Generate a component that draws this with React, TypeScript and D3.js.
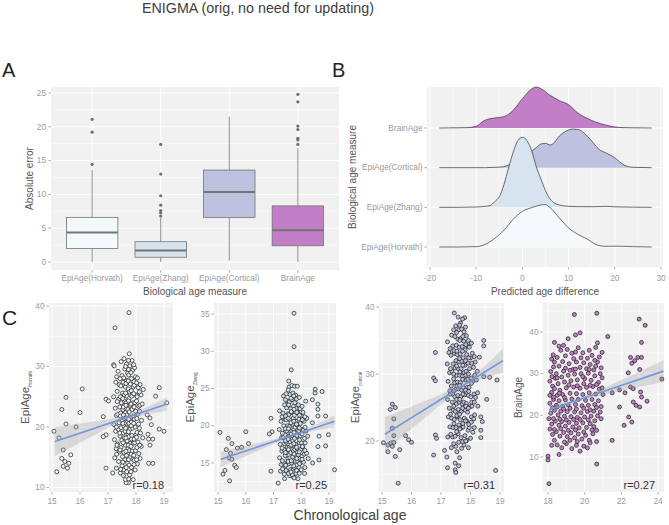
import * as d3 from "d3";

// ---------- panel A: absolute error boxplots ----------
const measures = ["EpiAge(Horvath)", "EpiAge(Zhang)", "EpiAge(Cortical)", "BrainAge"];
const boxLow = [0, 0, 0.2, 0];
const boxQ1 = [2.0, 0.7, 6.6, 2.4];
const boxMed = [4.35, 1.7, 10.35, 4.7];
const boxQ3 = [6.6, 3.0, 13.6, 8.3];
const boxHigh = [13.6, 6.5, 21.5, 16.8];
const boxOut = [
  [14.45, 19.2, 21.1],
  [6.8, 7.3, 7.6, 8.4, 9.8, 13.0, 17.4],
  [],
  [17.4, 18.05, 18.3, 19.6, 20.1, 23.7, 24.8],
];
const errTicks = [0, 5, 10, 15, 20, 25];

// ---------- panel B: ridgelines of predicted age difference ----------
const diffTicks = [-20, -10, 0, 10, 20, 30];
const brainX = [-18, -16, -14, -12, -10, -9, -8, -6, -4, -2, 0, 2, 3, 4, 6, 8, 10, 12, 14, 16, 18, 20, 22, 24, 26, 28];
const brainD = [0, 0.0003, 0.0005, 0.001, 0.005, 0.015, 0.024, 0.03, 0.034, 0.053, 0.088, 0.117, 0.123, 0.118, 0.098, 0.082, 0.07, 0.045, 0.029, 0.017, 0.009, 0.003, 0.001, 0.0005, 0.0003, 0];
const corticalX = [-18, -8, -6, -4, -3, -2, -1, 0, 1, 2, 3, 4, 5, 6, 7, 8, 9, 10, 11, 12, 13, 14, 15, 16, 17, 18, 19, 20, 21, 22, 23, 24, 28];
const corticalD = [0, 0, 0.001, 0.003, 0.008, 0.013, 0.02, 0.028, 0.038, 0.05, 0.06, 0.071, 0.073, 0.068, 0.077, 0.095, 0.106, 0.113, 0.116, 0.115, 0.108, 0.095, 0.08, 0.063, 0.051, 0.045, 0.038, 0.03, 0.018, 0.008, 0.003, 0.001, 0];
const zhangX = [-18, -14, -10, -8, -7, -6, -5, -4, -3, -2, -1, 0, 1, 2, 3, 4, 5, 6, 7, 8, 10, 12, 14, 16, 18, 20, 22, 24, 28];
const zhangD = [0, 0, 0.001, 0.003, 0.005, 0.017, 0.032, 0.068, 0.118, 0.165, 0.2, 0.21, 0.2, 0.17, 0.122, 0.085, 0.05, 0.025, 0.012, 0.007, 0.003, 0.002, 0.002, 0.002, 0.003, 0.0015, 0.001, 0.0005, 0];
const horvathX = [-18, -14, -12, -10, -9, -8, -6, -4, -2, 0, 2, 4, 5, 6, 8, 10, 12, 14, 16, 18, 20, 22, 24, 26, 28];
const horvathD = [0, 0, 0.0005, 0.001, 0.003, 0.008, 0.026, 0.05, 0.083, 0.107, 0.118, 0.126, 0.127, 0.118, 0.087, 0.057, 0.038, 0.024, 0.007, 0.002, 0.0025, 0.002, 0.001, 0.0005, 0];

// ---------- panel C: biological vs chronological age ----------
const ptsHorvath: [number, number][] = [
  [17.75, 38.9], [17.25, 36.4], [16.08, 26.3], [15.5, 24.9], [15.35, 22.9], [16.0, 22.4], [15.5, 20.5], [15.86, 20.0],
  [15.07, 19.3], [15.25, 18.2], [15.4, 16.2], [15.67, 15.4], [15.35, 14.8], [15.46, 14.3], [15.6, 14.0], [15.4, 13.5],
  [15.55, 13.2], [15.17, 12.6], [18.83, 26.5], [18.7, 25.1], [19.1, 24.0], [18.4, 22.0], [18.5, 21.5], [18.83, 19.65],
  [19.0, 19.3], [18.55, 20.4], [18.43, 18.8], [18.45, 18.0], [18.6, 18.0], [18.5, 17.0], [18.45, 14.0], [18.6, 14.0],
  [16.93, 18.7], [16.83, 18.4], [16.93, 24.6], [17.02, 24.3], [16.83, 21.7], [16.93, 13.2], [17.17, 12.4], [17.73, 10.8],
  [17.65, 10.8], [17.9, 11.3], [17.2, 30.3],
  [17.22, 30.1], [17.28, 27.4], [17.2, 25.0], [17.26, 23.1], [17.3, 21.9], [17.21, 20.4], [17.27, 19.3], [17.23, 17.9], [17.29, 16.4], [17.24, 14.9], [17.3, 13.2],
  [17.36, 29.2], [17.4, 27.0], [17.33, 25.9], [17.38, 24.6], [17.42, 23.3], [17.35, 22.1], [17.4, 20.7], [17.37, 19.6], [17.43, 18.5], [17.34, 17.2], [17.41, 15.9], [17.38, 14.3], [17.44, 12.4],
  [17.47, 30.8], [17.5, 28.5], [17.46, 26.8], [17.52, 25.6], [17.48, 24.0], [17.53, 22.9], [17.45, 22.3], [17.51, 21.1], [17.47, 19.9], [17.54, 19.0], [17.49, 17.8], [17.46, 16.6], [17.52, 15.1], [17.5, 13.6],
  [17.57, 31.3], [17.6, 29.6], [17.56, 28.1], [17.62, 26.6], [17.58, 25.3], [17.6, 24.2], [17.55, 23.3], [17.63, 22.4], [17.59, 21.4], [17.56, 20.2], [17.61, 19.3], [17.58, 18.2], [17.62, 17.0], [17.57, 15.8], [17.6, 14.6], [17.56, 12.9], [17.62, 11.3],
  [17.66, 30.4], [17.7, 28.9], [17.67, 27.7], [17.72, 26.3], [17.68, 25.1], [17.65, 24.0], [17.71, 22.9], [17.67, 22.0], [17.7, 20.9], [17.66, 20.0], [17.72, 18.8], [17.68, 17.7], [17.71, 16.4], [17.66, 15.3], [17.7, 14.0], [17.67, 12.6],
  [17.76, 32.1], [17.78, 30.1], [17.74, 28.6], [17.8, 27.1], [17.77, 25.8], [17.75, 24.7], [17.79, 23.6], [17.76, 22.5], [17.81, 21.6], [17.75, 20.6], [17.78, 19.6], [17.74, 18.4], [17.8, 17.3], [17.76, 16.1], [17.79, 15.0], [17.75, 13.7], [17.77, 12.1],
  [17.86, 31.0], [17.88, 29.4], [17.84, 28.0], [17.9, 26.6], [17.85, 25.1], [17.89, 24.0], [17.86, 22.9], [17.91, 21.8], [17.84, 20.8], [17.88, 19.8], [17.85, 18.6], [17.9, 17.3], [17.86, 16.0], [17.89, 14.7], [17.84, 13.3],
  [17.95, 29.8], [17.98, 28.3], [17.94, 26.9], [18.0, 25.3], [17.96, 24.0], [17.99, 22.6], [17.94, 21.3], [17.97, 20.0], [18.0, 18.7], [17.95, 17.4], [17.98, 16.1], [17.94, 14.5], [17.97, 12.9],
  [18.05, 28.1], [18.08, 26.5], [18.04, 25.0], [18.1, 23.4], [18.06, 22.1], [18.09, 20.5], [18.04, 19.1], [18.07, 17.5], [18.1, 15.6], [18.05, 13.9],
  [18.15, 27.0], [18.18, 25.3], [18.14, 23.6], [18.2, 21.1], [18.16, 19.0], [18.19, 16.8], [18.15, 14.8],
  [17.31, 28.3], [17.33, 24.2], [17.3, 20.0], [17.32, 17.0], [17.31, 15.5],
  [17.43, 28.0], [17.44, 25.0], [17.44, 21.8], [17.42, 19.0], [17.43, 16.2], [17.45, 13.0],
  [17.54, 27.4], [17.53, 24.7], [17.55, 22.0], [17.53, 20.6], [17.54, 17.4], [17.53, 14.2], [17.55, 12.0],
  [17.63, 30.0], [17.64, 27.2], [17.63, 25.6], [17.64, 23.6], [17.65, 21.5], [17.63, 19.8], [17.64, 18.2], [17.64, 16.0], [17.65, 13.3],
  [17.73, 31.0], [17.73, 29.5], [17.72, 27.6], [17.73, 24.3], [17.74, 21.3], [17.73, 19.2], [17.72, 17.0], [17.73, 14.6], [17.74, 11.4],
  [17.82, 29.0], [17.83, 26.0], [17.82, 23.8], [17.83, 20.2], [17.84, 18.0], [17.82, 16.8], [17.83, 15.5], [17.82, 12.6],
  [17.92, 30.3], [17.93, 27.5], [17.92, 25.5], [17.93, 23.3], [17.92, 20.6], [17.93, 18.0], [17.92, 15.3], [17.93, 13.8],
  [18.02, 27.3], [18.02, 24.3], [18.03, 21.4], [18.02, 18.3], [18.03, 16.6], [18.02, 14.6],
  [18.12, 25.8], [18.13, 22.6], [18.12, 19.8], [18.13, 17.0],
  [18.22, 23.8], [18.24, 18.2], [18.26, 26.2],
];
const ptsZhang: [number, number][] = [
  [17.74, 35.1], [17.74, 30.6], [17.64, 27.5], [17.55, 26.0], [16.91, 21.0], [16.95, 19.2], [16.85, 18.9], [15.07, 19.1],
  [16.0, 19.2], [15.37, 18.3], [15.5, 17.6], [15.7, 17.0], [15.85, 17.1], [16.1, 17.6], [15.3, 16.8], [15.45, 16.3],
  [15.4, 15.7], [15.5, 15.5], [15.6, 14.7], [15.66, 14.4], [15.25, 14.0], [15.18, 13.5], [15.42, 12.6], [16.91, 13.9],
  [17.17, 12.3], [17.4, 12.9], [17.7, 13.2], [17.88, 12.9], [18.12, 13.6], [18.41, 15.0], [18.64, 15.4], [18.5, 24.9],
  [18.5, 24.4], [18.75, 24.6], [18.6, 22.9], [18.6, 22.2], [18.6, 21.3], [18.88, 21.3], [18.4, 20.4], [18.64, 18.6],
  [18.98, 18.8], [18.6, 17.2], [18.88, 17.3], [19.2, 14.1], [18.4, 23.5],
  [17.22, 22.0], [17.27, 20.6], [17.21, 19.5], [17.29, 18.4], [17.24, 17.5], [17.3, 16.6], [17.22, 15.7], [17.28, 14.8], [17.25, 13.9],
  [17.36, 24.0], [17.4, 22.8], [17.34, 21.7], [17.41, 20.9], [17.37, 20.0], [17.43, 19.2], [17.35, 18.4], [17.4, 17.6], [17.38, 16.8], [17.42, 16.0], [17.36, 15.1], [17.41, 14.3], [17.39, 13.5],
  [17.46, 24.3], [17.5, 23.3], [17.47, 22.4], [17.52, 21.6], [17.45, 20.8], [17.51, 20.0], [17.48, 19.3], [17.53, 18.6], [17.46, 17.8], [17.5, 17.1], [17.47, 16.4], [17.52, 15.6], [17.49, 14.8], [17.45, 14.0],
  [17.56, 25.2], [17.6, 24.2], [17.57, 23.2], [17.62, 22.3], [17.55, 21.5], [17.61, 20.7], [17.58, 19.9], [17.63, 19.2], [17.56, 18.5], [17.6, 17.8], [17.57, 17.1], [17.62, 16.4], [17.59, 15.7], [17.55, 14.9], [17.61, 14.1], [17.58, 13.3],
  [17.66, 25.4], [17.7, 24.4], [17.67, 23.5], [17.72, 22.6], [17.65, 21.8], [17.71, 21.0], [17.68, 20.2], [17.73, 19.5], [17.66, 18.7], [17.7, 18.0], [17.67, 17.3], [17.72, 16.6], [17.69, 15.8], [17.65, 15.0], [17.71, 14.2], [17.68, 13.4],
  [17.76, 25.3], [17.8, 24.1], [17.77, 23.1], [17.82, 22.3], [17.75, 21.4], [17.81, 20.6], [17.78, 19.8], [17.83, 19.0], [17.76, 18.3], [17.8, 17.5], [17.77, 16.8], [17.82, 16.0], [17.79, 15.2], [17.75, 14.4], [17.81, 13.6],
  [17.86, 25.3], [17.9, 22.8], [17.87, 21.8], [17.92, 20.9], [17.85, 20.1], [17.91, 19.3], [17.88, 18.5], [17.93, 17.7], [17.86, 16.9], [17.9, 16.1], [17.87, 15.2], [17.92, 14.4],
  [17.96, 22.3], [18.0, 21.3], [17.97, 20.3], [18.02, 19.5], [17.95, 18.6], [18.01, 17.7], [17.98, 16.8], [18.03, 15.9], [17.96, 15.0], [18.0, 14.1],
  [18.06, 21.8], [18.1, 20.6], [18.07, 19.4], [18.12, 18.3], [18.05, 17.2], [18.11, 16.2], [18.08, 15.1],
  [18.16, 23.3], [18.2, 21.0], [18.17, 19.3], [18.14, 17.7], [18.19, 16.3],
  [17.31, 21.2], [17.32, 19.0], [17.31, 17.0], [17.32, 15.3], [17.33, 14.2],
  [17.43, 23.5], [17.44, 21.3], [17.43, 19.6], [17.44, 18.0], [17.43, 16.4], [17.44, 14.7],
  [17.53, 24.8], [17.54, 22.8], [17.53, 21.0], [17.54, 19.6], [17.53, 18.2], [17.54, 16.8], [17.53, 15.2], [17.54, 13.6],
  [17.63, 23.7], [17.64, 21.9], [17.63, 20.4], [17.64, 18.9], [17.63, 17.4], [17.64, 15.3], [17.63, 13.8],
  [17.73, 24.0], [17.74, 22.2], [17.73, 20.6], [17.74, 19.1], [17.73, 17.6], [17.74, 16.2], [17.73, 14.6], [17.74, 13.0],
  [17.83, 23.6], [17.84, 21.8], [17.83, 20.2], [17.84, 18.7], [17.83, 17.1], [17.84, 15.6], [17.83, 14.0],
  [17.93, 23.8], [17.94, 21.4], [17.93, 19.7], [17.94, 18.1], [17.93, 16.5], [17.94, 14.9], [17.93, 13.6],
  [18.03, 22.6], [18.04, 20.8], [18.03, 18.9], [18.04, 17.2], [18.03, 15.5],
  [18.13, 21.2], [18.14, 19.8], [18.13, 16.7], [18.13, 14.4],
  [18.23, 18.6], [18.25, 15.6],
];
const ptsCortical: [number, number][] = [
  [15.05, 19.75], [15.2, 19.4], [15.3, 19.7], [15.4, 19.8], [15.2, 18.4], [15.45, 17.7], [15.6, 18.7], [15.35, 19.2],
  [15.35, 25.5], [15.28, 24.7], [15.45, 25.0], [15.4, 23.3], [15.35, 21.9], [15.4, 20.8], [15.8, 20.8], [15.9, 20.2],
  [16.0, 19.8], [15.55, 13.7], [16.81, 33.2], [16.75, 29.4], [16.81, 29.0], [16.81, 20.9], [16.85, 20.4], [16.75, 17.9],
  [17.12, 18.6], [17.2, 17.6], [17.22, 16.0], [17.48, 15.7], [17.48, 16.7], [17.6, 16.3], [17.5, 15.3], [18.45, 35.0],
  [18.45, 34.2], [18.3, 32.5], [18.45, 29.6], [18.65, 29.5], [18.9, 29.1], [18.55, 26.2], [18.25, 25.2], [18.35, 23.6],
  [18.4, 22.9], [18.35, 21.6], [18.35, 20.5], [18.85, 15.6],
  [17.22, 34.8], [17.27, 33.2], [17.21, 31.5], [17.29, 30.2], [17.24, 28.9], [17.3, 27.5], [17.22, 26.2], [17.28, 24.9], [17.25, 23.6], [17.3, 22.1], [17.23, 20.6],
  [17.36, 35.8], [17.4, 34.2], [17.34, 32.8], [17.41, 31.5], [17.37, 30.4], [17.43, 29.3], [17.35, 28.2], [17.4, 27.0], [17.38, 25.8], [17.42, 24.6], [17.36, 23.4], [17.41, 22.0], [17.39, 20.6], [17.35, 19.0],
  [17.45, 39.1], [17.5, 37.2], [17.47, 35.6], [17.52, 34.3], [17.45, 33.1], [17.51, 32.0], [17.48, 30.9], [17.53, 29.8], [17.46, 28.7], [17.5, 27.7], [17.47, 26.6], [17.52, 25.5], [17.49, 24.4], [17.45, 23.2], [17.51, 22.0], [17.48, 20.7], [17.5, 19.2],
  [17.58, 38.5], [17.6, 36.6], [17.57, 35.2], [17.62, 34.0], [17.55, 32.9], [17.61, 31.8], [17.58, 30.8], [17.63, 29.8], [17.56, 28.8], [17.6, 27.8], [17.57, 26.8], [17.62, 25.8], [17.59, 24.7], [17.55, 23.6], [17.61, 22.4], [17.58, 21.1], [17.6, 19.8],
  [17.66, 37.6], [17.7, 36.7], [17.67, 35.3], [17.72, 34.1], [17.65, 33.0], [17.71, 31.9], [17.68, 30.8], [17.73, 29.7], [17.66, 28.7], [17.7, 27.6], [17.67, 26.6], [17.72, 25.5], [17.69, 24.4], [17.65, 23.2], [17.71, 22.0], [17.68, 20.5], [17.7, 18.9],
  [17.8, 38.4], [17.78, 36.3], [17.77, 34.9], [17.82, 33.6], [17.75, 32.4], [17.81, 31.3], [17.78, 30.2], [17.83, 29.1], [17.76, 28.0], [17.8, 26.9], [17.77, 25.8], [17.82, 24.6], [17.79, 23.4], [17.75, 22.1], [17.81, 20.8], [17.78, 19.4],
  [17.86, 35.7], [17.9, 34.2], [17.87, 32.9], [17.92, 31.6], [17.85, 30.4], [17.91, 29.2], [17.88, 28.0], [17.93, 26.8], [17.86, 25.6], [17.9, 24.3], [17.87, 23.0], [17.92, 21.6], [17.88, 20.1],
  [17.96, 34.0], [18.0, 32.4], [17.97, 30.8], [18.02, 29.4], [17.95, 28.0], [18.01, 26.6], [17.98, 25.1], [18.03, 23.6], [17.96, 22.0], [18.0, 20.4],
  [18.06, 33.1], [18.1, 31.0], [18.07, 28.9], [18.12, 27.0], [18.05, 25.2], [18.11, 23.3], [18.08, 21.3],
  [18.16, 31.8], [18.2, 29.1], [18.17, 26.5], [18.14, 23.9],
  [17.31, 33.8], [17.32, 30.8], [17.31, 27.0], [17.32, 24.0], [17.33, 21.0],
  [17.43, 36.6], [17.44, 33.5], [17.43, 30.0], [17.44, 27.5], [17.43, 25.2], [17.44, 22.6], [17.43, 19.6],
  [17.53, 36.2], [17.54, 33.4], [17.53, 31.2], [17.54, 28.2], [17.53, 26.2], [17.54, 23.8], [17.53, 21.4], [17.54, 18.4],
  [17.63, 37.3], [17.64, 35.0], [17.63, 32.3], [17.64, 30.3], [17.63, 28.3], [17.64, 26.2], [17.63, 24.0], [17.64, 21.8], [17.63, 17.5],
  [17.73, 38.2], [17.74, 35.6], [17.73, 33.4], [17.74, 31.3], [17.73, 29.2], [17.74, 27.0], [17.73, 24.9], [17.74, 22.6], [17.73, 19.9],
  [17.83, 37.0], [17.84, 34.4], [17.83, 32.0], [17.84, 29.8], [17.83, 27.6], [17.84, 25.2], [17.83, 23.0], [17.84, 20.0],
  [17.93, 35.0], [17.94, 32.4], [17.93, 30.0], [17.94, 27.4], [17.93, 24.9], [17.94, 22.5], [17.93, 19.0],
  [18.03, 34.6], [18.04, 31.6], [18.03, 28.6], [18.04, 25.8], [18.03, 22.8],
  [18.13, 32.6], [18.14, 29.8], [18.13, 25.8], [18.13, 22.0],
  [18.23, 30.4], [18.24, 27.2],
];
const ptsBrain: [number, number][] = [
  [19.44, 44.2], [20.66, 44.5], [22.97, 43.1], [23.3, 41.6], [21.26, 38.9], [23.1, 37.5], [22.5, 33.9], [22.73, 33.1],
  [22.9, 33.9], [23.1, 33.9], [22.57, 32.5], [22.38, 30.2], [23.0, 31.0], [24.21, 28.7], [21.5, 25.4], [21.9, 26.1],
  [22.2, 25.4], [22.5, 26.8], [22.65, 26.4], [23.05, 25.6], [23.1, 24.4], [23.4, 23.4], [22.65, 23.2], [22.8, 22.4],
  [23.0, 22.0], [21.9, 22.0], [22.4, 19.6], [22.15, 17.6], [22.57, 18.4], [21.5, 14.0], [20.66, 8.3], [18.0, 10.2],
  [18.0, 9.3], [18.05, 3.6], [18.6, 10.6], [19.5, 39.3], [19.75, 39.8], [20.7, 37.4], [18.35, 37.5], [19.1, 38.4],
  [18.2, 33.5], [18.35, 32.8], [18.5, 33.9], [18.7, 35.6], [18.85, 36.8], [19.05, 35.8], [19.3, 34.9], [19.5, 35.2], [19.65, 36.2], [19.9, 35.0], [20.15, 33.7], [20.4, 34.4], [20.6, 36.3], [20.8, 34.0],
  [18.15, 30.5], [18.3, 31.6], [18.45, 30.0], [18.6, 31.8], [18.8, 32.9], [18.95, 31.3], [19.15, 32.4], [19.35, 31.0], [19.55, 32.8], [19.75, 31.5], [19.95, 32.6], [20.1, 31.2], [20.3, 32.2], [20.5, 30.9], [20.7, 32.8], [20.9, 31.4],
  [18.1, 28.2], [18.25, 27.0], [18.4, 28.9], [18.55, 27.6], [18.75, 29.2], [18.9, 28.0], [19.1, 29.6], [19.25, 28.3], [19.45, 29.9], [19.6, 28.5], [19.8, 30.0], [20.0, 28.8], [20.2, 30.1], [20.35, 28.4], [20.55, 29.5], [20.75, 27.9], [20.95, 29.0],
  [18.2, 25.5], [18.35, 26.4], [18.5, 24.8], [18.65, 26.0], [18.8, 25.0], [19.0, 26.6], [19.2, 25.3], [19.4, 26.8], [19.55, 25.2], [19.75, 26.5], [19.9, 25.0], [20.1, 26.7], [20.25, 25.4], [20.45, 26.9], [20.6, 25.1], [20.8, 26.3], [21.0, 25.0],
  [18.1, 22.9], [18.3, 23.8], [18.45, 22.4], [18.6, 23.5], [18.8, 22.2], [18.95, 23.7], [19.1, 22.5], [19.3, 23.9], [19.5, 22.6], [19.65, 23.8], [19.85, 22.3], [20.05, 23.6], [20.2, 22.4], [20.4, 23.8], [20.55, 22.6], [20.75, 23.5], [20.9, 22.1],
  [18.15, 20.5], [18.35, 21.2], [18.55, 20.1], [18.7, 21.0], [18.9, 19.8], [19.05, 20.9], [19.25, 19.7], [19.45, 20.8], [19.6, 19.5], [19.8, 20.6], [20.0, 19.6], [20.15, 20.9], [20.35, 19.8], [20.5, 21.0], [20.7, 19.9], [20.85, 20.8],
  [18.2, 17.9], [18.4, 18.6], [18.6, 17.6], [18.75, 18.5], [18.95, 17.4], [19.15, 18.3], [19.35, 17.2], [19.55, 18.1], [19.7, 17.0], [19.9, 18.2], [20.1, 17.1], [20.3, 18.0], [20.5, 17.3], [20.65, 16.4],
  [18.25, 15.4], [18.45, 16.1], [18.65, 15.0], [18.85, 15.9], [19.05, 14.9], [19.25, 15.8], [19.45, 14.6], [19.65, 15.5], [19.85, 14.3], [20.05, 15.2], [20.25, 14.0], [20.45, 15.6], [20.65, 13.7],
  [18.5, 12.9], [18.75, 12.2], [19.0, 13.2], [19.3, 12.0], [19.55, 12.8], [19.75, 11.4], [19.95, 12.6], [20.3, 13.4], [19.2, 14.0],
  [18.28, 34.5], [18.6, 36.6], [18.95, 34.3], [19.4, 33.6], [19.8, 33.8], [20.25, 35.6], [20.55, 33.2], [20.95, 35.1],
  [18.22, 29.3], [18.5, 29.0], [18.85, 30.6], [19.2, 30.8], [19.5, 31.1], [19.9, 29.3], [20.25, 31.0], [20.6, 31.8], [20.85, 30.0],
  [18.3, 24.4], [18.62, 25.3], [18.9, 24.3], [19.15, 27.3], [19.6, 27.1], [19.95, 27.6], [20.3, 27.2], [20.65, 27.4], [20.95, 26.6],
  [18.25, 21.8], [18.5, 22.0], [18.85, 21.5], [19.2, 21.7], [19.55, 21.5], [19.95, 21.7], [20.3, 21.3], [20.65, 21.9],
  [18.3, 19.2], [18.65, 19.1], [19.0, 18.9], [19.4, 19.0], [19.75, 19.0], [20.2, 18.9], [20.55, 18.7], [20.9, 19.2],
  [18.35, 16.6], [18.7, 16.8], [19.1, 16.4], [19.5, 16.5], [19.95, 16.0], [20.4, 16.5],
  [18.35, 14.0], [18.9, 13.6], [19.6, 13.7], [20.15, 12.2], [18.2, 12.8], [18.1, 16.7], [18.05, 19.2], [18.1, 24.8],
];

// fitted lines with their confidence half-widths
const fitHorvathX = [15.1, 16.1, 17.1, 17.7, 18.4, 19.1];
const fitHorvathY = [17.6, 19.15, 20.7, 21.65, 22.7, 23.8];
const fitHorvathSe = [2.4, 1.5, 0.65, 0.45, 0.6, 1.1];
const fitZhangX = [15.1, 16.1, 17.1, 17.7, 18.4, 19.2];
const fitZhangY = [15.5, 16.74, 17.99, 18.73, 19.6, 20.6];
const fitZhangSe = [1.0, 0.65, 0.3, 0.22, 0.35, 0.8];
const fitCorticalX = [15.1, 16.1, 17.1, 17.7, 18.4, 19.1];
const fitCorticalY = [21.0, 23.75, 26.5, 28.15, 30.08, 32.0];
const fitCorticalSe = [2.6, 1.6, 0.7, 0.5, 0.8, 1.8];
const fitBrainX = [18.05, 18.8, 19.6, 20.4, 21.5, 22.8, 24.3];
const fitBrainY = [21.3, 22.42, 23.61, 24.8, 26.44, 28.38, 30.61];
const fitBrainSe = [1.0, 0.6, 0.45, 0.55, 1.0, 1.7, 2.6];

const rValues = ["r=0.18", "r=0.25", "r=0.31", "r=0.27"];
const ageTicksA = [15, 16, 17, 18, 19];
const ageTicksB = [18, 20, 22, 24];

const FONT = "'Liberation Sans', Arial, sans-serif";
const PANEL_BG = "#f1f1f1";
const TICK_TXT = "#9a9a9a";
const TICK_LN = "#b0b0b0";
const fills = ["#f4f9fb", "#d5e4ef", "#bec1df", "#c27fc8"];

function PanelA() {
  const L = 51, R = 339, T = 87, B = 270;
  const x = d3.scalePoint<string>().domain(measures).range([L, R]).padding(0.6);
  const y = d3.scaleLinear().domain([0, 25]).range([262, 93]);
  const bw = x.step() * 0.75;
  const minor = d3.range(2.5, 25, 5);
  return (
    <g>
      <rect x={L} y={T} width={R - L} height={B - T} fill={PANEL_BG} />
      {minor.map((v) => (
        <line key={"m" + v} x1={L} x2={R} y1={y(v)} y2={y(v)} stroke="#fff" strokeWidth={0.5} />
      ))}
      {errTicks.map((v) => (
        <line key={"g" + v} x1={L} x2={R} y1={y(v)} y2={y(v)} stroke="#fff" strokeWidth={1} />
      ))}
      {measures.map((m) => (
        <line key={"v" + m} x1={x(m)} x2={x(m)} y1={T} y2={B} stroke="#fff" strokeWidth={1} />
      ))}
      {measures.map((m, i) => {
        const cx = x(m)!;
        return (
          <g key={m} stroke="#747474">
            <line x1={cx} x2={cx} y1={y(boxQ3[i])} y2={y(boxHigh[i])} strokeWidth={0.8} />
            <line x1={cx} x2={cx} y1={y(boxQ1[i])} y2={y(boxLow[i])} strokeWidth={0.8} />
            <rect x={cx - bw / 2} y={y(boxQ3[i])} width={bw} height={y(boxQ1[i]) - y(boxQ3[i])} fill={fills[i]} strokeWidth={0.8} />
            <line x1={cx - bw / 2} x2={cx + bw / 2} y1={y(boxMed[i])} y2={y(boxMed[i])} strokeWidth={2} />
            {boxOut[i].map((o, j) => (
              <circle key={j} cx={cx} cy={y(o)} r={1.6} fill="#6f6f6f" stroke="none" />
            ))}
          </g>
        );
      })}
      {errTicks.map((v) => (
        <g key={"t" + v}>
          <line x1={L - 2.7} x2={L} y1={y(v)} y2={y(v)} stroke={TICK_LN} />
          <text x={L - 5} y={y(v)} dy="0.33em" textAnchor="end" fontSize={8.3} fill={TICK_TXT}>{v}</text>
        </g>
      ))}
      {measures.map((m) => (
        <g key={"xt" + m}>
          <line x1={x(m)} x2={x(m)} y1={B} y2={B + 2.7} stroke={TICK_LN} />
          <text x={x(m)} y={B + 11} textAnchor="middle" fontSize={8.3} fill={TICK_TXT}>{m}</text>
        </g>
      ))}
      <text x={(L + R) / 2} y={B + 25} textAnchor="middle" fontSize={10} fill="#555">Biological age measure</text>
      <text transform={`translate(33,${(T + B) / 2}) rotate(-90)`} textAnchor="middle" fontSize={10} fill="#555">Absolute error</text>
    </g>
  );
}

function PanelB() {
  const L = 427, R = 663, T = 87, B = 267;
  const x = d3.scaleLinear().domain([-20, 30]).range([430, 661]);
  const y = d3.scalePoint<string>().domain(measures).range([247, 128]);
  const h = d3.scaleLinear().domain([0, 0.21]).range([0, 70]);
  const ridges = [
    { name: "BrainAge", xs: brainX, ds: brainD, fill: fills[3] },
    { name: "EpiAge(Cortical)", xs: corticalX, ds: corticalD, fill: fills[2] },
    { name: "EpiAge(Zhang)", xs: zhangX, ds: zhangD, fill: fills[1] },
    { name: "EpiAge(Horvath)", xs: horvathX, ds: horvathD, fill: fills[0] },
  ];
  const minor = [-15, -5, 5, 15, 25];
  return (
    <g>
      <rect x={L} y={T} width={R - L} height={B - T} fill={PANEL_BG} />
      {minor.map((v) => (
        <line key={"m" + v} x1={x(v)} x2={x(v)} y1={T} y2={B} stroke="#fff" strokeWidth={0.5} />
      ))}
      {diffTicks.map((v) => (
        <line key={"g" + v} x1={x(v)} x2={x(v)} y1={T} y2={B} stroke="#fff" strokeWidth={1} />
      ))}
      {measures.map((m) => (
        <line key={"h" + m} x1={L} x2={R} y1={y(m)} y2={y(m)} stroke="#fff" strokeWidth={1} />
      ))}
      {ridges.map((r) => {
        const base = y(r.name)!;
        const pts = r.xs.map((v, i) => [v, r.ds[i]] as [number, number]);
        const area = d3.area<[number, number]>()
          .x((d) => x(d[0]))
          .y0(base)
          .y1((d) => base - h(d[1]))
          .curve(d3.curveMonotoneX);
        const line = d3.line<[number, number]>()
          .x((d) => x(d[0]))
          .y((d) => base - h(d[1]))
          .curve(d3.curveMonotoneX);
        return (
          <g key={r.name}>
            <path d={area(pts)!} fill={r.fill} />
            <path d={line(pts)!} fill="none" stroke="#333" strokeWidth={0.7} />
          </g>
        );
      })}
      {measures.map((m) => (
        <g key={"yt" + m}>
          <line x1={L - 2.7} x2={L} y1={y(m)} y2={y(m)} stroke={TICK_LN} />
          <text x={L - 4.5} y={y(m)} dy="0.33em" textAnchor="end" fontSize={8.3} fill={TICK_TXT}>{m}</text>
        </g>
      ))}
      {diffTicks.map((v) => (
        <g key={"xt" + v}>
          <line x1={x(v)} x2={x(v)} y1={B} y2={B + 2.7} stroke={TICK_LN} />
          <text x={x(v)} y={B + 14} textAnchor="middle" fontSize={8.3} fill={TICK_TXT}>{v}</text>
        </g>
      ))}
      <text x={(L + R) / 2} y={B + 28} textAnchor="middle" fontSize={10} fill="#555">Predicted age difference</text>
      <text transform={`translate(356,${(T + B) / 2}) rotate(-90)`} textAnchor="middle" fontSize={10} fill="#555">Biological age measure</text>
    </g>
  );
}

interface ScatterProps {
  L: number; R: number; T: number; B: number;
  xd: [number, number]; xr: [number, number];
  yd: [number, number]; yr: [number, number];
  xTicks: number[]; xMinor: number[];
  yTicks: number[]; yMinor: number[];
  pts: [number, number][];
  fitX: number[]; fitY: number[]; fitSe: number[];
  fill: string; label: string; sub?: string; labelSize: number; titleX: number;
  r: string;
}

function Scatter(p: ScatterProps) {
  const x = d3.scaleLinear().domain(p.xd).range(p.xr);
  const y = d3.scaleLinear().domain(p.yd).range(p.yr);
  const fit = p.fitX.map((v, i) => ({ x: v, y: p.fitY[i], se: p.fitSe[i] }));
  const band = d3.area<{ x: number; y: number; se: number }>()
    .x((d) => x(d.x))
    .y0((d) => y(d.y - d.se))
    .y1((d) => y(d.y + d.se))
    .curve(d3.curveMonotoneX);
  const line = d3.line<{ x: number; y: number; se: number }>()
    .x((d) => x(d.x))
    .y((d) => y(d.y));
  const cy = (p.T + p.B) / 2;
  return (
    <g>
      <rect x={p.L} y={p.T} width={p.R - p.L} height={p.B - p.T} fill={PANEL_BG} />
      {p.xMinor.map((v) => (
        <line key={"xm" + v} x1={x(v)} x2={x(v)} y1={p.T} y2={p.B} stroke="#fff" strokeWidth={0.5} />
      ))}
      {p.yMinor.map((v) => (
        <line key={"ym" + v} x1={p.L} x2={p.R} y1={y(v)} y2={y(v)} stroke="#fff" strokeWidth={0.5} />
      ))}
      {p.xTicks.map((v) => (
        <line key={"xg" + v} x1={x(v)} x2={x(v)} y1={p.T} y2={p.B} stroke="#fff" strokeWidth={1} />
      ))}
      {p.yTicks.map((v) => (
        <line key={"yg" + v} x1={p.L} x2={p.R} y1={y(v)} y2={y(v)} stroke="#fff" strokeWidth={1} />
      ))}
      {p.pts.map((d, i) => (
        <circle key={i} cx={x(d[0])} cy={y(d[1])} r={2} fill={p.fill} stroke="#1a1a1a" strokeWidth={0.7} />
      ))}
      <path d={band(fit)!} fill="#9a9a9a" fillOpacity={0.3} />
      <path d={line(fit)!} fill="none" stroke="#7096e2" strokeWidth={1.6} />
      {p.xTicks.map((v) => (
        <g key={"xt" + v}>
          <line x1={x(v)} x2={x(v)} y1={p.B} y2={p.B + 2.7} stroke={TICK_LN} />
          <text x={x(v)} y={p.B + 12} textAnchor="middle" fontSize={8.3} fill={TICK_TXT}>{v}</text>
        </g>
      ))}
      {p.yTicks.map((v) => (
        <g key={"yt" + v}>
          <line x1={p.L - 2.7} x2={p.L} y1={y(v)} y2={y(v)} stroke={TICK_LN} />
          <text x={p.L - 4.5} y={y(v)} dy="0.33em" textAnchor="end" fontSize={8.3} fill={TICK_TXT}>{v}</text>
        </g>
      ))}
      <text transform={`translate(${p.titleX},${cy}) rotate(-90)`} textAnchor="middle" fontSize={p.labelSize} fill="#555">
        {p.label}
        {p.sub ? <tspan dy={2.5} fontSize={4.5}>{p.sub}</tspan> : null}
      </text>
      <text x={p.R - 9} y={p.B - 3} textAnchor="end" fontSize={11} fill="#333">{p.r}</text>
    </g>
  );
}

export default function App() {
  return (
    <svg width={669} height={525} style={{ position: "absolute", left: 0, top: 0, background: "#fff" }} fontFamily={FONT}>
      <text x={258} y={13} textAnchor="middle" fontSize={14.3} fill="#404040">ENIGMA (orig, no need for updating)</text>
      <text x={2} y={77} fontSize={20} fill="#222">A</text>
      <text x={332} y={77} fontSize={20} fill="#222">B</text>
      <text x={2} y={325} fontSize={21} fill="#222">C</text>
      <PanelA />
      <PanelB />
      <Scatter L={49} R={173} T={303} B={492} xd={[15, 19]} xr={[52, 164]} yd={[10, 40]} yr={[487.5, 306]}
        xTicks={ageTicksA} xMinor={[15.5, 16.5, 17.5, 18.5]} yTicks={[10, 20, 30, 40]} yMinor={[15, 25, 35]}
        pts={ptsHorvath} fitX={fitHorvathX} fitY={fitHorvathY} fitSe={fitHorvathSe}
        fill={fills[0]} label="EpiAge" sub="Horvath" labelSize={11.5} titleX={29} r={rValues[0]} />
      <Scatter L={214} R={336} T={303} B={492} xd={[15, 19]} xr={[218, 329]} yd={[15, 35]} yr={[463, 314]}
        xTicks={ageTicksA} xMinor={[15.5, 16.5, 17.5, 18.5]} yTicks={[15, 20, 25, 30, 35]} yMinor={[12.5, 17.5, 22.5, 27.5, 32.5]}
        pts={ptsZhang} fitX={fitZhangX} fitY={fitZhangY} fitSe={fitZhangSe}
        fill={fills[1]} label="EpiAge" sub="Zhang" labelSize={11.5} titleX={194} r={rValues[1]} />
      <Scatter L={379} R={504} T={303} B={492} xd={[15, 19]} xr={[382, 500]} yd={[20, 40]} yr={[441, 307]}
        xTicks={ageTicksA} xMinor={[15.5, 16.5, 17.5, 18.5]} yTicks={[20, 30, 40]} yMinor={[15, 25, 35]}
        pts={ptsCortical} fitX={fitCorticalX} fitY={fitCorticalY} fitSe={fitCorticalSe}
        fill={fills[2]} label="EpiAge" sub="cortical" labelSize={11.5} titleX={359} r={rValues[2]} />
      <Scatter L={543} R={664} T={303} B={492} xd={[18, 24]} xr={[548, 658]} yd={[10, 40]} yr={[457, 332]}
        xTicks={ageTicksB} xMinor={[19, 21, 23]} yTicks={[10, 20, 30, 40]} yMinor={[5, 15, 25, 35, 45]}
        pts={ptsBrain} fitX={fitBrainX} fitY={fitBrainY} fitSe={fitBrainSe}
        fill={fills[3]} label="BrainAge" labelSize={10} titleX={522} r={rValues[3]} />
      <text x={350} y={520} textAnchor="middle" fontSize={14} fill="#404040">Chronological age</text>
    </svg>
  );
}
